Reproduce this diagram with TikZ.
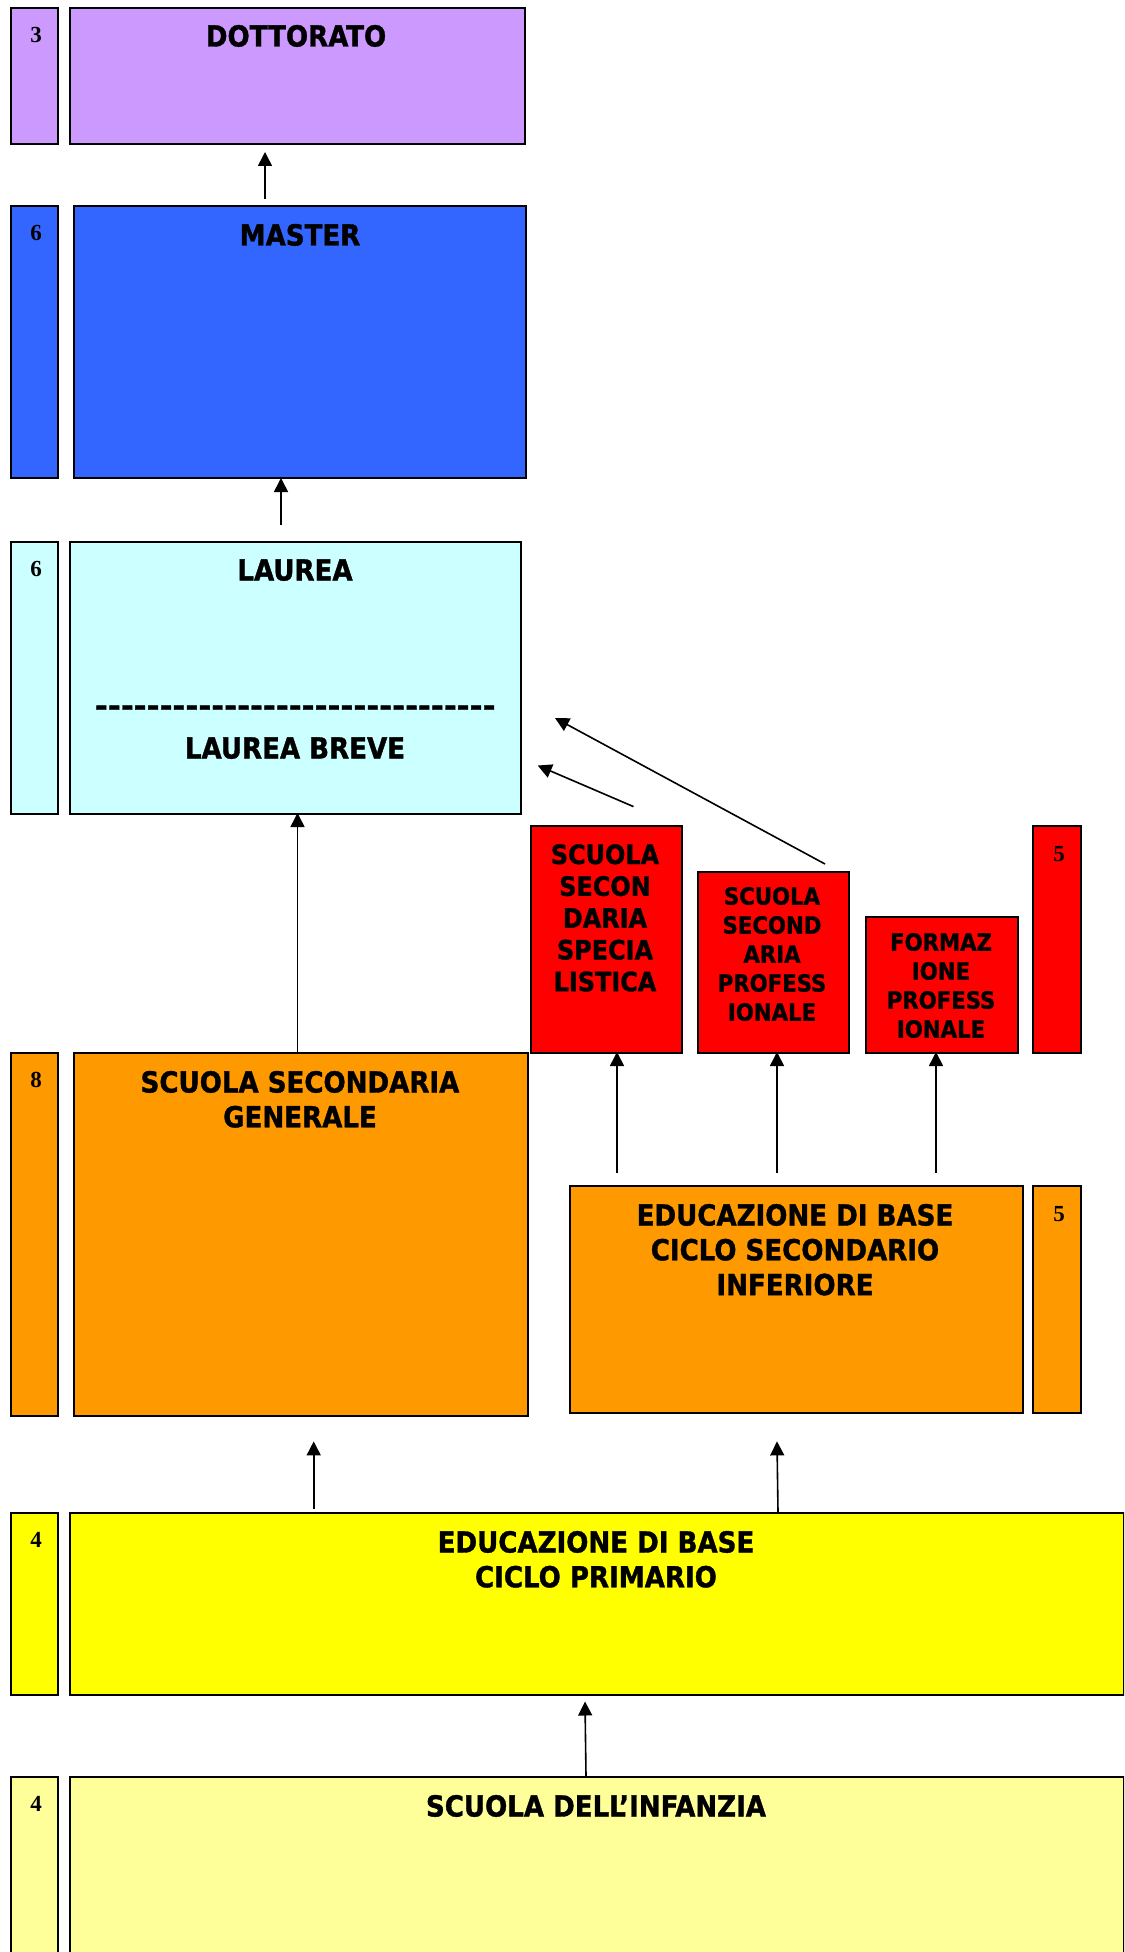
\documentclass[tikz,border=0pt]{standalone}
\usepackage{fontspec}
\usepackage{graphicx}
\usetikzlibrary{arrows.meta}
\newfontfamily\tah{DejaVu Sans Condensed Bold}[FakeBold=1.2]
\newfontfamily\numf{Liberation Serif}
\definecolor{cpurple}{HTML}{CC99FF}
\definecolor{cblue}{HTML}{3366FF}
\definecolor{ccyan}{HTML}{CCFFFF}
\definecolor{cred}{HTML}{FF0000}
\definecolor{corange}{HTML}{FF9900}
\definecolor{cyellow}{HTML}{FFFF00}
\definecolor{clyellow}{HTML}{FFFF99}
\newcommand\bx[6]{\node[box,fill=#6,minimum width={(#4-#2)*0.5pt},minimum height={(#5-#3)*0.5pt}] (#1) at (#2,#3) {};}
\begin{document}
\begin{tikzpicture}[x=0.5pt,y=-0.5pt,
  box/.style={draw=black,line width=1pt,inner sep=0pt,anchor=north west},
  txt/.style={font=\tah\fontsize{14.5}{17.4}\selectfont,align=center,anchor=base,inner sep=0pt},
  rtxtA/.style={font=\tah\fontsize{13.3}{15.9}\selectfont,align=center,anchor=base,inner sep=0pt},
  rtxtB/.style={font=\tah\fontsize{11.8}{14.5}\selectfont,align=center,anchor=base,inner sep=0pt},
  num/.style={font=\numf\bfseries\fontsize{11.5}{13}\selectfont,anchor=base,inner sep=0pt},
  arr/.style={line width=0.8pt,-{Triangle[length=7pt,width=7pt]}}]
\useasboundingbox (0,0) rectangle (1124,1952);
\clip (0,0) rectangle (1124,1952);
% DOTTORATO
\bx{nD}{10}{7.5}{57}{143}{cpurple}
\bx{bD}{68.5}{7.5}{524}{143}{cpurple}
\node[num] (n3) at (36,42.5) {3};
\node[txt] (tD) at (296,46.5) {DOTTORATO};
% MASTER
\bx{nM}{10}{205}{57}{477}{cblue}
\bx{bM}{73.4}{205}{525}{477}{cblue}
\node[num] (n6a) at (36,240.5) {6};
\node[txt] (tM) at (300,245.5) {MASTER};
% LAUREA
\bx{nL}{10}{541}{57}{813}{ccyan}
\bx{bL}{68.5}{541}{520}{813}{ccyan}
\node[num] (n6b) at (36,576.5) {6};
\node[txt] (tL) at (295,580.5) {LAUREA};
\node[txt] (tDash) at (295,716) {\resizebox{200pt}{\height}{-------------------------------}};
\node[txt] (tLB) at (295,758.5) {LAUREA BREVE};
% red boxes
\bx{r1}{530}{825}{681}{1052}{cred}
\bx{r2}{697}{871}{848}{1052}{cred}
\bx{r3}{865}{916}{1017}{1052}{cred}
\bx{r4}{1032}{825}{1080}{1052}{cred}
\node[rtxtA] (tr1) at (605,991.2) {SCUOLA\\SECON\\DARIA\\SPECIA\\LISTICA};
\node[rtxtB] (tr2) at (772,1020.6) {SCUOLA\\SECOND\\ARIA\\PROFESS\\IONALE};
\node[rtxtB] (tr3) at (941,1037.6) {FORMAZ\\IONE\\PROFESS\\IONALE};
\node[num] (n5a) at (1059,861.5) {5};
% SCUOLA SECONDARIA GENERALE
\bx{nS}{10}{1052}{57}{1415}{corange}
\bx{bS}{73.4}{1052}{526.5}{1415}{corange}
\node[num] (n8) at (36,1087.5) {8};
\node[txt] (tS) at (300,1127.3) {SCUOLA SECONDARIA\\GENERALE};
% EDUCAZIONE DI BASE CICLO SECONDARIO INFERIORE
\bx{bE}{569}{1185}{1022}{1411.5}{corange}
\bx{nE}{1032}{1185}{1080}{1411.5}{corange}
\node[num] (n5b) at (1059,1221) {5};
\node[txt] (tE) at (795,1295.1) {EDUCAZIONE DI BASE\\CICLO SECONDARIO\\INFERIORE};
% EDUCAZIONE DI BASE CICLO PRIMARIO
\bx{nP}{10}{1512}{57}{1694}{cyellow}
\bx{bP}{68.5}{1512}{1123}{1694}{cyellow}
\node[num] (n4a) at (36,1547.5) {4};
\node[txt] (tP) at (596,1587.3) {EDUCAZIONE DI BASE\\CICLO PRIMARIO};
% SCUOLA DELL'INFANZIA
\bx{nI}{10}{1776}{57}{1990}{clyellow}
\bx{bI}{68.5}{1776}{1123}{1990}{clyellow}
\node[num] (n4b) at (36,1811) {4};
\node[txt] (tI) at (596,1816.5) {SCUOLA DELL’INFANZIA};
% arrows
\coordinate (a1s) at (265,199); \coordinate (a1e) at (265,152);
\coordinate (a2s) at (281,525); \coordinate (a2e) at (281,478);
\coordinate (a3s) at (297.5,1052); \coordinate (a3e) at (297.5,813);
\coordinate (a4s) at (633.5,806.6); \coordinate (a4e) at (537.7,765.5);
\coordinate (a5s) at (825,864); \coordinate (a5e) at (555,718);
\coordinate (a6s) at (617,1172.5); \coordinate (a6e) at (617,1052);
\coordinate (a7s) at (777,1172.5); \coordinate (a7e) at (777,1052);
\coordinate (a8s) at (936,1172.5); \coordinate (a8e) at (936,1052);
\coordinate (a9s) at (313.7,1508.6); \coordinate (a9e) at (313.7,1441.4);
\coordinate (a10s) at (778,1512); \coordinate (a10e) at (777,1441.4);
\coordinate (a11s) at (586,1776); \coordinate (a11e) at (585,1701.5);
\foreach \i in {1,...,11} \draw[arr] (a\i s) -- (a\i e);
\end{tikzpicture}
\end{document}
